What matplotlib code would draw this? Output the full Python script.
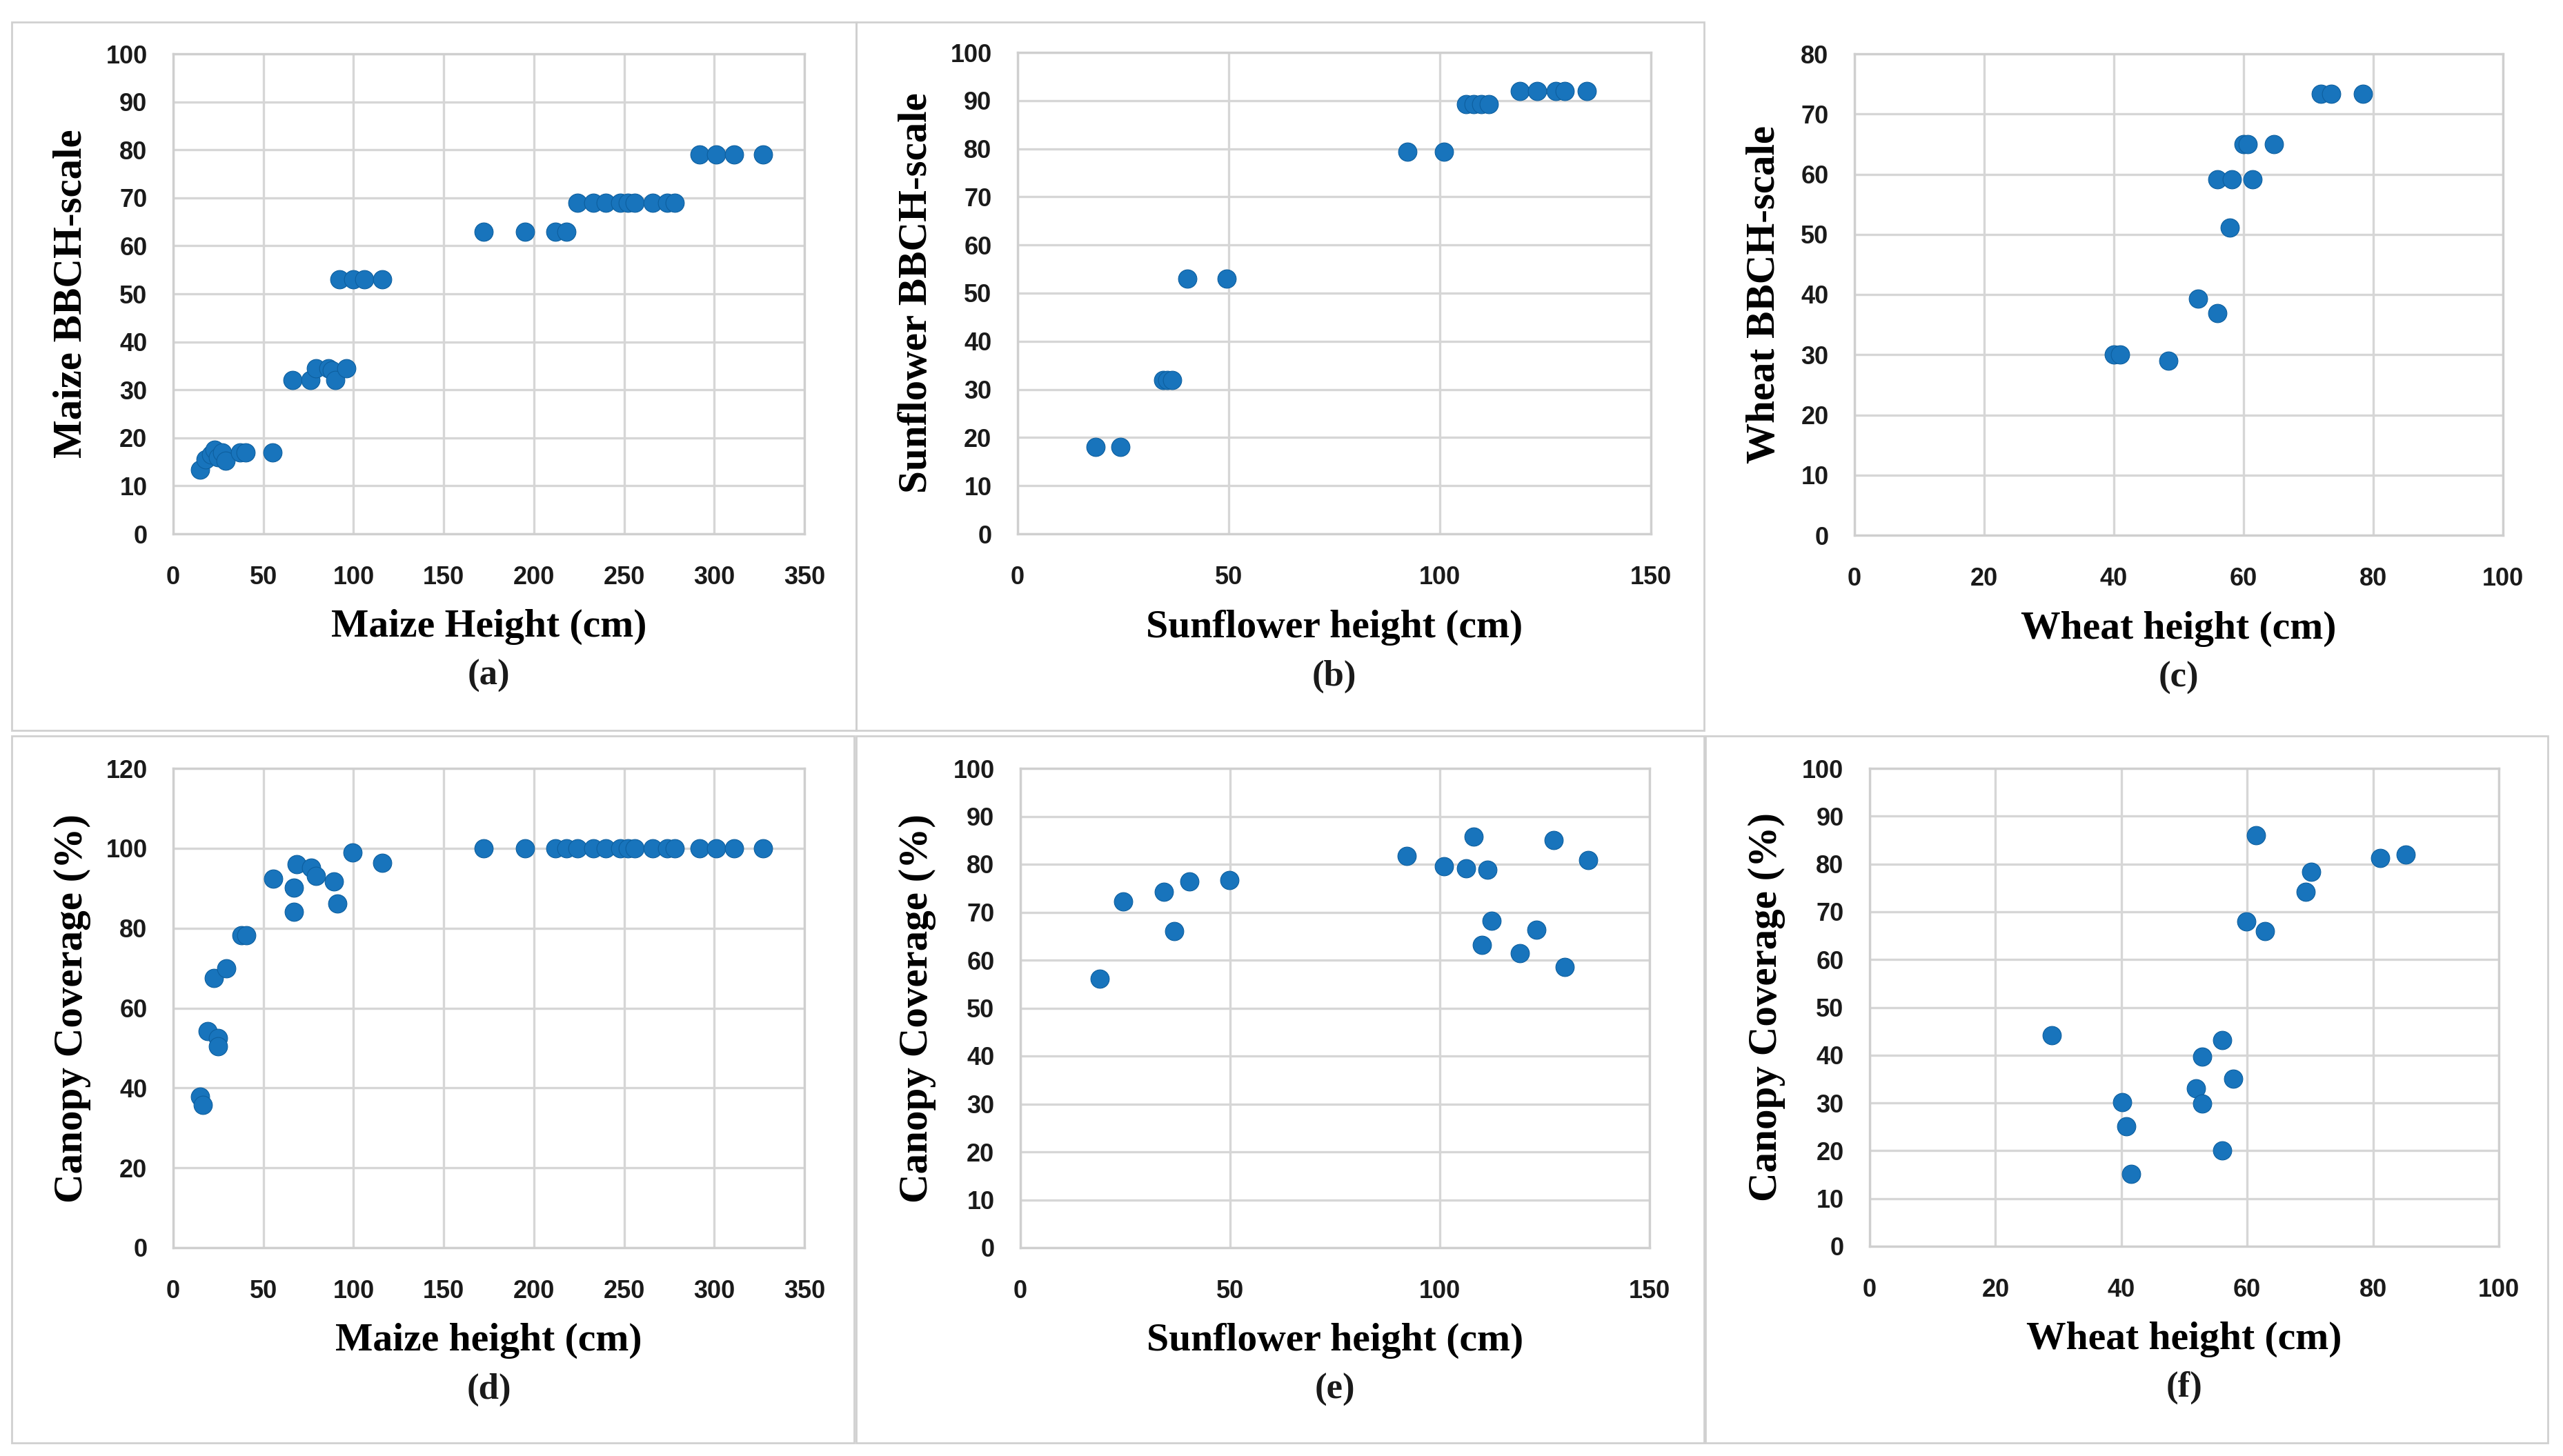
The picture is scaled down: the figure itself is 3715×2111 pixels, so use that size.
import matplotlib
matplotlib.use("Agg")
import matplotlib.pyplot as plt
from matplotlib.patches import Rectangle

# Data
# (a) maize height vs BBCH
maize_h_a = [15, 18, 21, 23, 25, 27, 29, 37, 40, 55,
             66, 76, 79, 86, 88, 90, 96,
             92, 100, 106, 116,
             172, 195, 212, 218,
             224, 233, 240, 248, 252, 256, 266, 274, 278,
             292, 301, 311, 327]
maize_bbch = [13.3, 15.5, 16.5, 17.5, 16, 17, 15.3, 17, 17, 17,
              32, 32, 34.5, 34.5, 34, 32, 34.5,
              53, 53, 53, 53,
              63, 63, 63, 63,
              69, 69, 69, 69, 69, 69, 69, 69, 69,
              79, 79, 79, 79]

# (b) sunflower height vs BBCH
sun_h_b = [18.5, 24.3, 34.4, 35.5, 36.6, 40.2, 49.5, 92.4, 100.9,
           106.2, 108, 109.8, 111.6, 119, 123.1, 127.5, 129.6, 134.8]
sun_bbch = [18, 18, 32, 32, 32, 53, 53, 79.4, 79.4,
            89.2, 89.2, 89.2, 89.2, 92, 92, 92, 92, 92]

# (c) wheat height vs BBCH
wheat_h_c = [40, 41, 48.4, 53, 56, 57.9, 56, 58.2, 61.4, 60, 60.6, 64.7, 71.9, 73.5, 78.4]
wheat_bbch = [30, 30, 29, 39.3, 36.9, 51.1, 59.1, 59.1, 59.1, 65, 65, 65, 73.3, 73.3, 73.3]

# (d) maize height vs canopy coverage
maize_h_d = [15, 16.5, 19, 25, 25, 22.5, 29.5, 38, 40.5, 55.5,
             67, 67, 68.5, 76.5, 79, 89, 91, 99.5, 116,
             172, 195, 212, 218, 224, 233, 240, 248, 252, 256,
             266, 274, 278, 292, 301, 311, 327]
maize_cov = [37.8, 35.8, 54.2, 52.5, 50.5, 67.5, 70, 78.3, 78.3, 92.4,
             90.1, 84.1, 96, 95.1, 93.1, 91.6, 86.1, 98.9, 96.3,
             100, 100, 100, 100, 100, 100, 100, 100, 100, 100,
             100, 100, 100, 100, 100, 100, 100]

# (e) sunflower height vs canopy coverage
sun_h_e = [18.9, 24.5, 34.2, 36.6, 40.3, 49.8, 92.1, 101, 106.2,
           108.1, 111.4, 112.3, 110.1, 119, 123.1, 127.2, 129.8, 135.4]
sun_cov = [56.1, 72.2, 74.3, 66.1, 76.4, 76.7, 81.7, 79.6, 79.2,
           85.8, 78.8, 68.2, 63.2, 61.4, 66.4, 85, 58.5, 80.9]

# (f) wheat height vs canopy coverage
wheat_h_f = [29, 40.1, 40.8, 41.6, 51.9, 52.8, 52.8, 56, 56, 57.8,
             59.9, 61.4, 62.8, 69.3, 70.2, 81.1, 85.2]
wheat_cov = [44.1, 30.1, 25.1, 15.2, 33, 29.9, 39.7, 43.2, 20.1, 35,
             68, 86, 65.9, 74.1, 78.3, 81.2, 81.9]

# every text in the figure is bold; tick numbers in a plain sans
plt.rcParams["font.family"] = ["Liberation Sans", "DejaVu Sans"]
plt.rcParams["font.weight"] = "bold"
plt.rcParams["axes.labelweight"] = "bold"
plt.rcParams["text.color"] = "#1a1a1a"
plt.rcParams["xtick.color"] = "#1a1a1a"
plt.rcParams["ytick.color"] = "#1a1a1a"

W, H = 3715, 2111
fig = plt.figure(figsize=(W / 100, H / 100), dpi=100)

label_font = ["Liberation Serif", "DejaVu Serif"]
dot_color = "#1874BC"
grid_color = "#d6d6d6"


def px_axes(x0, y0, x1, y1):
    # pixel box (top-left origin) -> figure axes
    return fig.add_axes([x0 / W, 1 - y1 / H, (x1 - x0) / W, (y1 - y0) / H])


panels = [
    # box, x, y, xmax, xstep, ymax, ystep, xlabel, ylabel, letter, ylabel x
    ((251, 78, 1166, 774), maize_h_a, maize_bbch, 350, 50, 100, 10,
     "Maize Height (cm)", "Maize BBCH-scale", "(a)", -0.161),
    ((1475, 76, 2393, 774), sun_h_b, sun_bbch, 150, 50, 100, 10,
     "Sunflower height (cm)", "Sunflower BBCH-scale", "(b)", -0.159),
    ((2688, 78, 3628, 776), wheat_h_c, wheat_bbch, 100, 20, 80, 10,
     "Wheat height (cm)", "Wheat BBCH-scale", "(c)", -0.138),
    ((251, 1114, 1166, 1809), maize_h_d, maize_cov, 350, 50, 120, 20,
     "Maize height (cm)", "Canopy Coverage (%)", "(d)", -0.16),
    ((1479, 1114, 2391, 1809), sun_h_e, sun_cov, 150, 50, 100, 10,
     "Sunflower height (cm)", "Canopy Coverage (%)", "(e)", -0.163),
    ((2710, 1114, 3622, 1807), wheat_h_f, wheat_cov, 100, 20, 100, 10,
     "Wheat height (cm)", "Canopy Coverage (%)", "(f)", -0.163),
]

for box, xs, ys, xmax, xstep, ymax, ystep, xlab, ylab, letter, ylx in panels:
    ax = px_axes(*box)
    ax.scatter(xs, ys, s=370, color=dot_color, edgecolors="#0d5f9f",
               linewidths=0.8, zorder=3)
    ax.set_xlim(0, xmax)
    ax.set_ylim(0, ymax)
    ax.set_xticks(range(0, xmax + 1, xstep))
    ax.set_yticks(range(0, ymax + 1, ystep))
    ax.grid(True, color=grid_color, linewidth=2.4)
    ax.set_axisbelow(True)
    for sp in ax.spines.values():
        sp.set_color("#cfcfcf")
        sp.set_linewidth(2.4)
    ax.tick_params(length=0, labelsize=26)
    ax.tick_params(axis="y", pad=27)
    ax.tick_params(axis="x", pad=33)
    ax.set_xlabel(xlab, family=label_font, fontweight="bold", fontsize=41.5, va="center")
    ax.xaxis.set_label_coords(0.5, -0.194)
    ax.set_ylabel(ylab, family=label_font, fontweight="bold", fontsize=42.5, va="center")
    ax.yaxis.set_label_coords(ylx, 0.5)
    ax.text(0.5, -0.296, letter, transform=ax.transAxes, ha="center", va="center",
            family=label_font, fontweight="bold", fontsize=38)

# light grey frames around the panels
frames = [(17, 32, 1241, 1059), (1241, 32, 2470, 1059),
          (17, 1067, 1238, 2092), (1241, 1067, 2470, 2092), (2472, 1067, 3693, 2092)]
for x0, y0, x1, y1 in frames:
    fig.add_artist(Rectangle((x0 / W, 1 - y1 / H), (x1 - x0) / W, (y1 - y0) / H,
                             transform=fig.transFigure, fill=False,
                             edgecolor="#d0d0d0", linewidth=2))

fig.savefig("out.png", dpi=100, facecolor="white")
